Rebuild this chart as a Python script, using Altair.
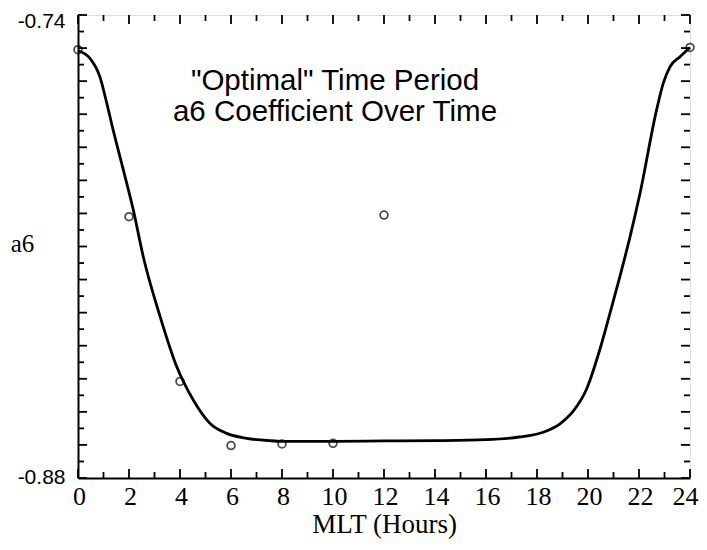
import altair as alt
import pandas as pd

# Observed data points (MLT hours, a6 coefficient)
point_mlt = [0, 2, 4, 6, 8, 10, 12, 24]
point_a6 = [-0.7505, -0.8010, -0.8508, -0.8702, -0.8697, -0.8695, -0.8005, -0.7498]

# Fitted curve
curve_mlt = [0, 0.47, 0.86, 1.13, 1.38, 1.78, 2.17, 2.56, 3.22, 3.87, 4.52,
             5.18, 5.83, 6.62, 7.5, 8, 10, 12, 14, 16, 17.3, 18.3, 18.9, 19.42, 19.95,
             20.47, 20.86, 21.25, 21.65, 22.04, 22.69, 22.95, 23.22, 23.61, 24]
curve_a6 = [-0.7508, -0.7531, -0.7587, -0.7667, -0.7748, -0.7869, -0.7990,
            -0.8131, -0.8312, -0.8463, -0.8564, -0.8635, -0.8665, -0.8680, -0.8687,
            -0.8689, -0.8689, -0.8688, -0.8687, -0.8684, -0.8676, -0.8660, -0.8636, -0.8598,
            -0.8530, -0.8410, -0.8302, -0.8191, -0.8070, -0.7939, -0.7687, -0.7607,
            -0.7556, -0.7526, -0.7498]

x_label_values = list(range(0, 25, 2))
x_tick_values = list(range(0, 25))
y_label_values = [-0.88, -0.74]
y_tick_values = [round(-0.88 + 0.005 * i, 3) for i in range(29)]

annotation_lines = ['"Optimal" Time Period', 'a6 Coefficient Over Time']

W, H = 612, 463

xs = alt.Scale(domain=[0, 24], nice=False, zero=False)
ys = alt.Scale(domain=[-0.88, -0.74], nice=False, zero=False)

x_axis = alt.Axis(values=x_label_values, title="MLT (Hours)", grid=False, ticks=False,
                  tickSize=0, labelPadding=5, labelFont="Liberation Serif",
                  labelFontSize=26, labelColor="black", labelFlush=False,
                  labelOffset={"condition": {"test": "datum.value > 23", "value": -5},
                               "value": 1},
                  titleFont="Liberation Serif", titleFontSize=27, titleFontWeight="normal",
                  titleColor="black", titlePadding=2, domainColor="black", domainWidth=2)
y_axis = alt.Axis(values=y_label_values, title="a6", grid=False, ticks=False, tickSize=0,
                  labelPadding=13, labelFont="Liberation Sans", labelFontSize=21,
                  labelColor="black", labelFlush=False,
                  labelExpr="'-' + format(abs(datum.value), '.2f')",
                  labelOffset={"condition": {"test": "datum.value > -0.8", "value": 6},
                               "value": -1},
                  titleFont="Liberation Serif", titleFontSize=25, titleFontWeight="normal",
                  titleColor="black", titleAngle=0, titleAlign="center",
                  titleBaseline="middle", titleX=-56, titleY=228,
                  domainColor="black", domainWidth=2)

curve_df = pd.DataFrame({"mlt": curve_mlt, "a6": curve_a6})
pts_df = pd.DataFrame({"mlt": point_mlt, "a6": point_a6})

curve = alt.Chart(curve_df).mark_line(color="black", strokeWidth=2.8,
                                      interpolate="monotone").encode(
    x=alt.X("mlt:Q", scale=xs, axis=x_axis),
    y=alt.Y("a6:Q", scale=ys, axis=y_axis),
)

points = alt.Chart(pts_df).mark_point(shape="circle", filled=False, color="black",
                                      size=60, strokeWidth=1.8).encode(
    x=alt.X("mlt:Q", scale=xs),
    y=alt.Y("a6:Q", scale=ys),
)

xt_df = pd.DataFrame({"mlt": x_tick_values})
xt_even = xt_df[xt_df.mlt % 2 == 0]
xt_odd = xt_df[xt_df.mlt % 2 == 1]
yt_df = pd.DataFrame({"a6": y_tick_values})
yt_major = yt_df[[abs(round(v * 100) - v * 100) < 1e-6 for v in yt_df.a6]]
yt_minor = yt_df[[abs(round(v * 100) - v * 100) >= 1e-6 for v in yt_df.a6]]

def xticks(df, length):
    bottom = alt.Chart(df).mark_rule(color="black", strokeWidth=1.8).encode(
        x=alt.X("mlt:Q", scale=xs), y=alt.value(H), y2=alt.value(H - length))
    top = alt.Chart(df).mark_rule(color="black", strokeWidth=1.8).encode(
        x=alt.X("mlt:Q", scale=xs), y=alt.value(0), y2=alt.value(length))
    return bottom + top

def yticks(df, length):
    left = alt.Chart(df).mark_rule(color="black", strokeWidth=1.8).encode(
        y=alt.Y("a6:Q", scale=ys), x=alt.value(0), x2=alt.value(length))
    right = alt.Chart(df).mark_rule(color="black", strokeWidth=1.8).encode(
        y=alt.Y("a6:Q", scale=ys), x=alt.value(W), x2=alt.value(W - length))
    return left + right

ann1 = alt.Chart(pd.DataFrame({"t": [annotation_lines[0]]})).mark_text(
    font="Liberation Sans", fontSize=29.5, color="black", align="center", baseline="middle"
).encode(text="t:N", x=alt.value(257), y=alt.value(66))
ann2 = alt.Chart(pd.DataFrame({"t": [annotation_lines[1]]})).mark_text(
    font="Liberation Sans", fontSize=29.5, color="black", align="center", baseline="middle"
).encode(text="t:N", x=alt.value(257), y=alt.value(97))

chart = alt.layer(
    xticks(xt_even, 9), xticks(xt_odd, 6), yticks(yt_major, 9), yticks(yt_minor, 6),
    curve, points, ann1, ann2
).properties(
    width=W, height=H,
    autosize=alt.AutoSizeParams(type="none"),
    padding={"left": 70, "top": 7, "right": 9, "bottom": 64},
).configure_view(stroke="black", strokeWidth=2).configure(background="white")

chart.save("out.html", embed_options={"renderer": "svg", "actions": False})
